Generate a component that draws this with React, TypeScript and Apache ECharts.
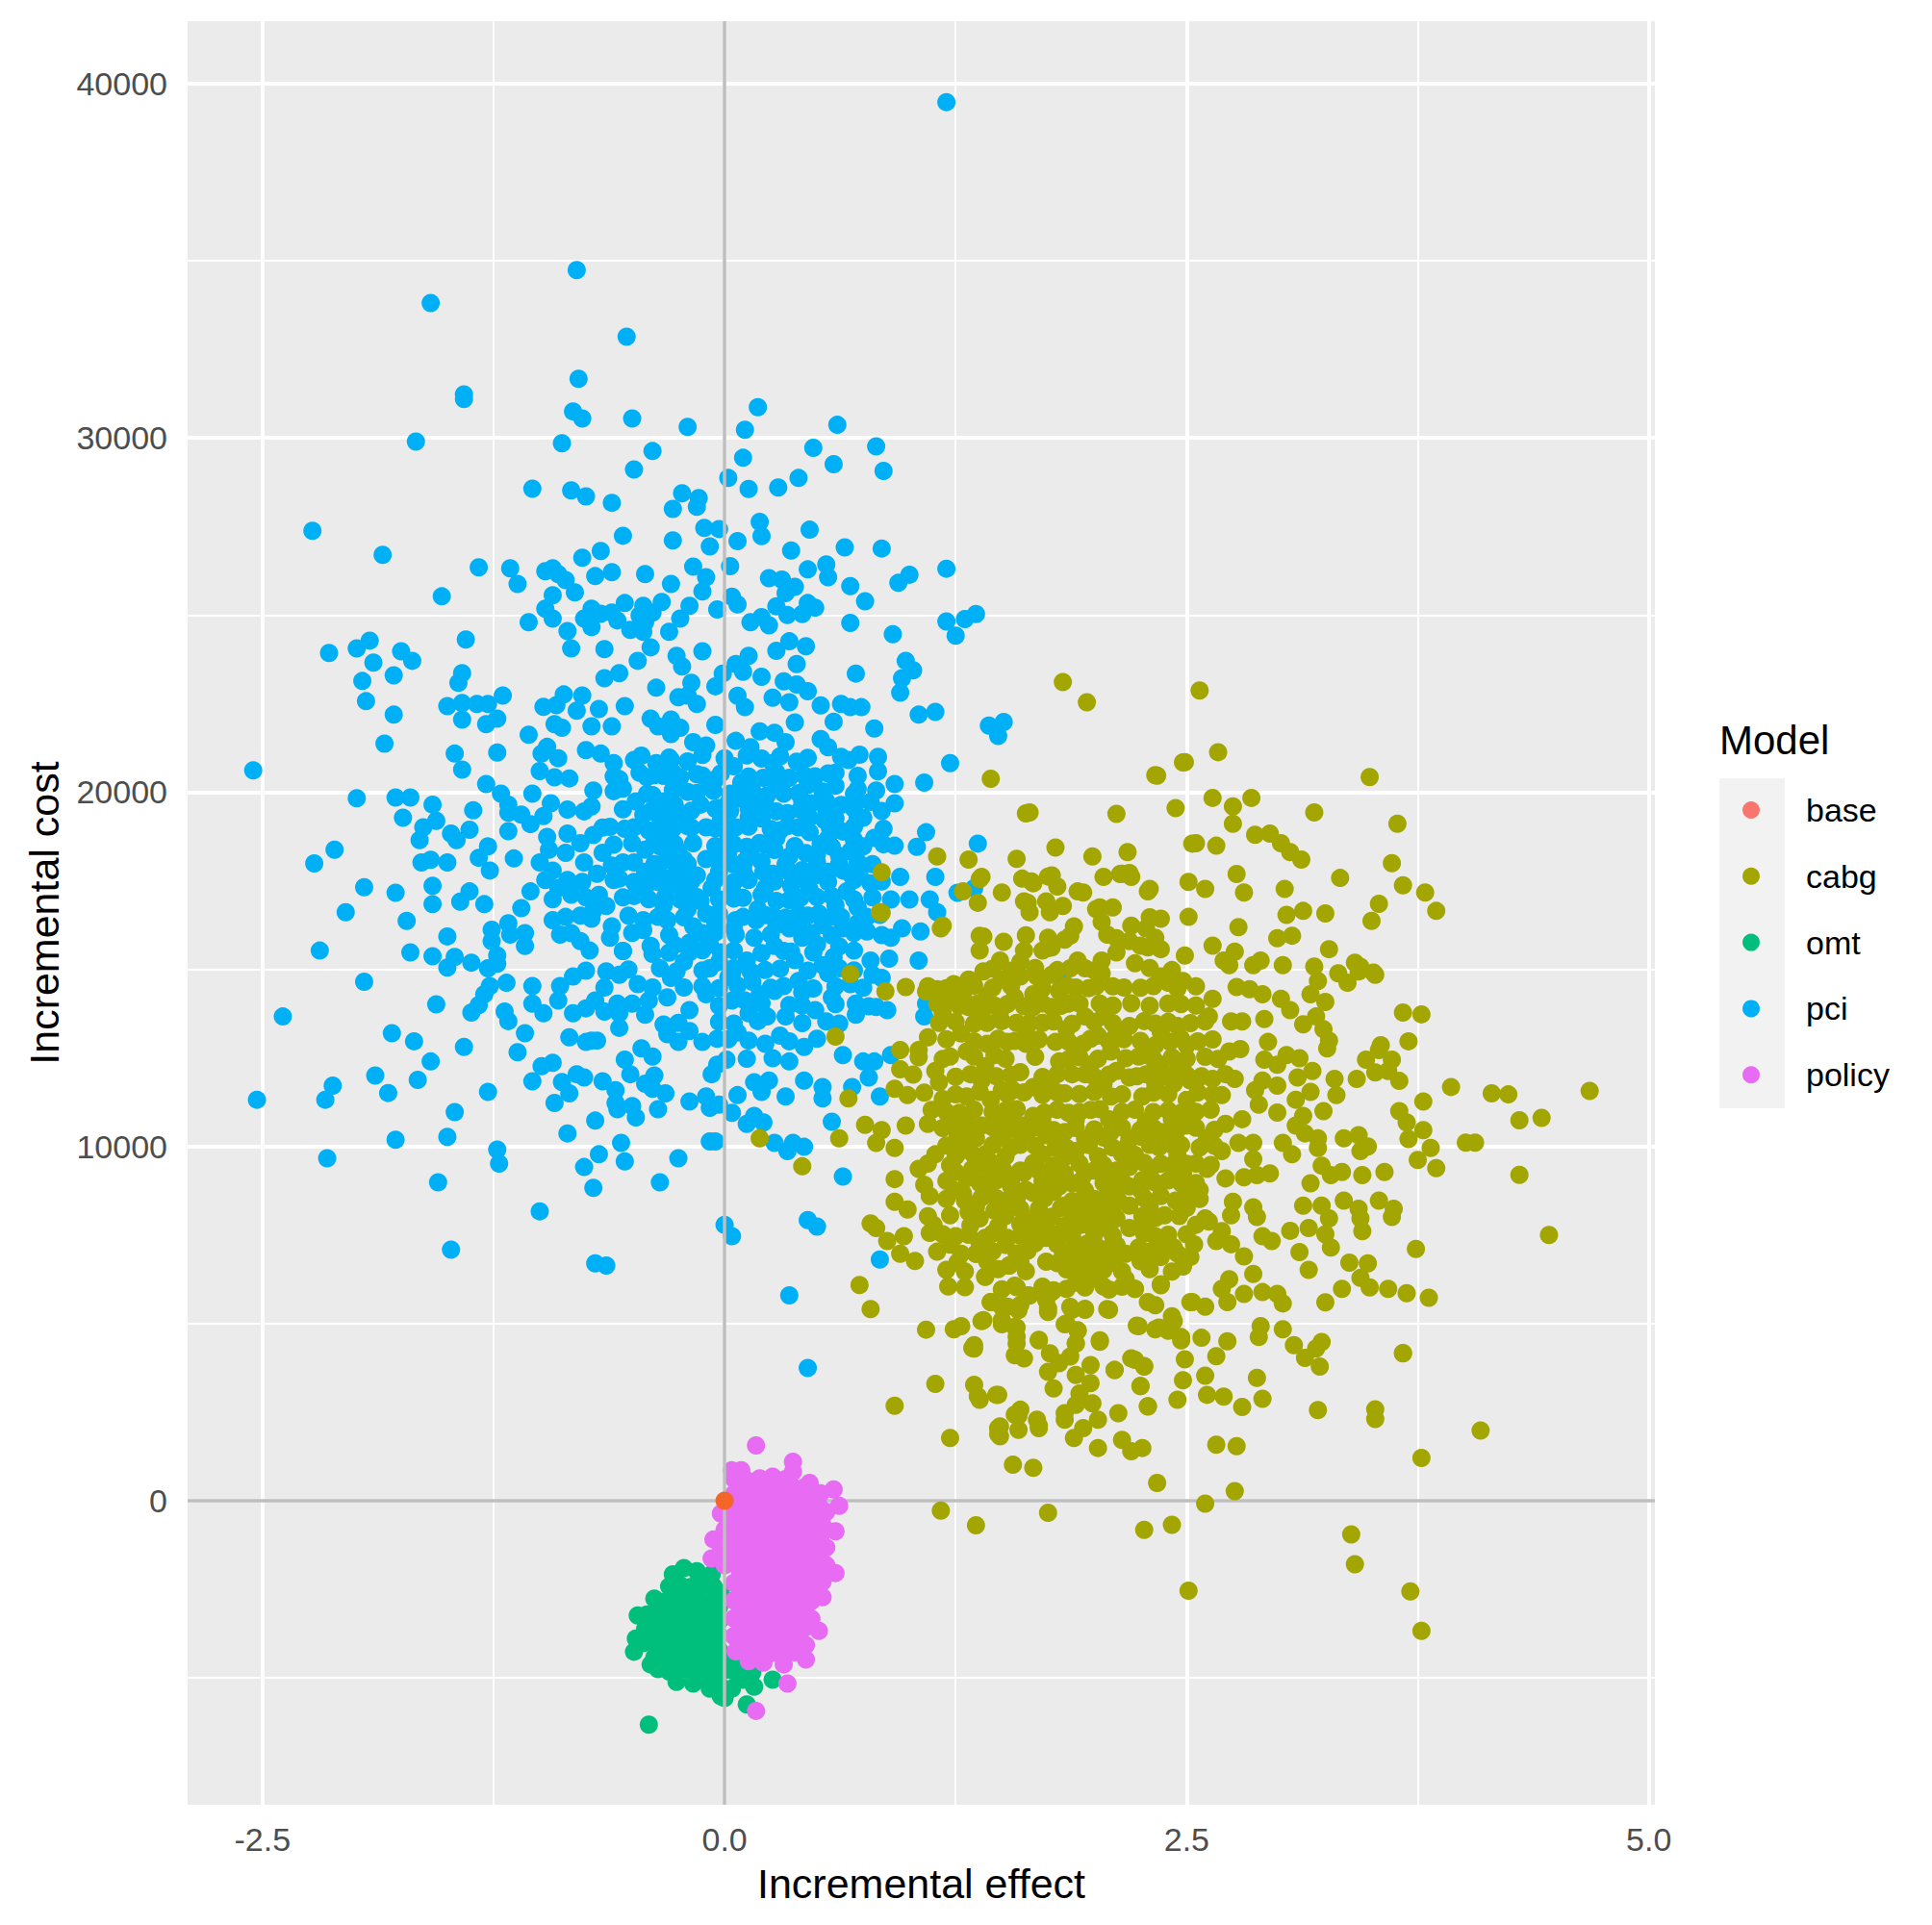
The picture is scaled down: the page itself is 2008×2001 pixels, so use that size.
import React, { useEffect, useRef } from "react";
import * as echarts from "echarts";

type Pt = [number, number];

const basePoints: Pt[] = [[0, 0]];

const pciPoints: Pt[] = [
[1.2,39480],[-0.8,34740],[-1.59,33810],[-0.53,32860],[-0.79,31670],[-1.41,31230],[-1.41,31100],[-0.82,30750],[-0.77,30550],[-0.5,30550],[-0.2,30310],[-1.67,29900],[-0.88,29850],[-0.39,29630],[-0.49,29110],[-1.04,28570],[-0.83,28520],[-0.75,28350],[-0.61,28170],[-0.23,28440],[-0.28,28000],[-0.14,28300],[-0.15,28060],[-2.23,27380],[-0.11,27460],[-0.55,27240],[-0.28,27110],[-0.08,26940],[-1.85,26700],[-0.67,26810],[-0.77,26620],[-1.33,26350],[-1.16,26320],[-1.12,25880],[-0.97,26240],[-0.93,26320],[-0.9,26160],[-0.86,25990],[-0.7,26100],[-0.61,26210],[-0.43,26160],[-0.17,26370],[-0.29,25880],[-0.1,26070],[-0.12,25670],[-0.81,25640],[-1.53,25530],[-0.93,25560],[-0.97,25180],[-0.93,24900],[-1.06,24800],[-0.85,24550],[-0.83,24060],
[-0.72,25180],[-0.76,24900],[-0.72,24660],[-0.67,25040],[-0.61,25070],[-0.58,24850],[-0.54,25340],[-0.44,25260],[-0.46,24990],[-0.43,24800],[-0.51,24580],[-0.44,24530],[-0.39,25070],[-0.34,25370],[-0.19,25260],[-0.24,24900],[-0.3,24530],[-2.14,23930],[-1.99,24060],[-1.92,24280],[-1.75,23980],[-1.69,23710],[-1.9,23660],[-1.4,24310],[-1.79,23300],[-1.96,23140],[-1.94,22570],[-1.79,22190],[-1.42,23360],[-1.44,23090],[-1.2,22730],[-1.5,22430],[-1.42,22520],[-1.34,22490],[-1.28,22490],[-1.42,22050],[-1.23,22080],[-1.29,21920],[-0.65,24040],[-0.47,23710],[-0.4,24090],[-0.26,23850],[-0.23,23550],[-0.12,23980],[-0.65,23220],[-0.57,23360],[-0.37,22950],[-0.18,23090],[-0.2,22730],[-0.25,22680],[-0.15,22490],[-0.87,22760],[-0.77,22730],[-0.98,22410],[-0.91,22460],[-0.8,22300],[-0.68,22350],[-0.54,22430],[-0.4,22080],[-0.29,22050],[-0.92,21920],
[-1.84,21370],[-2.55,20620],[-1.46,21090],[-1.42,20640],[-1.23,21120],[-1.06,21620],[-1.29,20230],[-1.99,19830],[-1.78,19850],[-1.7,19850],[-1.74,19280],[-1.58,19650],[-1.36,19490],[-1.56,19190],[-1.63,19010],[-1.65,18650],[-1.48,18830],[-1.45,18650],[-1.38,18940],[-1.21,19960],[-1.17,19650],[-1.17,19420],[-1.1,19370],[-1.17,18900],[-1.04,19960],[-1.05,19100],[-0.98,19330],[-0.94,19690],[-0.96,18740],[-0.85,19510],[-0.76,19460],[-0.71,20050],[-0.67,21090],[-0.75,21190],[-0.6,20820],[-0.57,20370],[-0.55,20100],[-0.9,20960],[-0.96,21280],[-1,20600],[-0.92,20420],[-0.84,20390],[-0.99,21090],[-0.88,21820],[-0.72,21860],[-0.61,21860],[-0.49,20910],[-0.17,21410],[-0.1,21320],[-0.29,21640],[-0.36,21860],[-0.24,21820],
[-0.37,20820],[-0.29,20910],[-0.2,20870],[-0.42,20420],[-0.33,20460],[-0.24,20420],[-0.15,20510],[-0.48,19740],[-0.39,19920],[-0.33,19740],[-0.44,19370],[-0.35,19280],[-0.49,19010],[-0.41,18920],[-0.33,18880],[-0.54,18970],[-0.5,18560],[-0.43,18380],[-0.49,18020],[-0.43,17750],[-0.49,17470],[-0.43,17290],[-0.49,17070],[-0.41,16980],[-0.2,20010],[-0.13,19650],[-0.1,19010],[-0.17,18560],[-0.1,18110],[-0.15,17650],[-0.27,19650],[-0.22,19370],[-0.25,18330],[-0.31,18200],[-0.36,17840],[-0.24,17750],[-0.26,17290],[-0.32,17070],[-0.31,17560],[-0.44,16390],[-0.44,16110],[-0.36,16480],[-0.31,16390],[-0.4,15660],[-0.39,15440],[-0.27,15690],[-0.13,16930],[-0.17,16210],[-0.1,16570],[-0.19,15750],[-0.12,16020],[-0.22,15210],[-0.26,14940],[-0.19,15480],
[-0.85,18830],[-0.71,18790],[-0.95,18380],[-0.86,18290],[-0.78,18560],[-0.66,18290],[-0.76,18020],[-0.61,17930],[-0.57,17560],[-0.69,17700],[-0.77,17470],[-0.83,17110],[-0.93,17790],[-0.97,17520],[-1.05,17200],[-0.93,16980],[-1.1,16730],[-0.64,16790],[-0.71,16660],[-0.78,16520],[-0.86,16480],[-0.93,16390],[-0.61,16210],[-0.62,15890],[-0.89,15980],[-0.83,16020],[-0.78,15800],[-0.73,15530],[-0.72,16430],[-1.28,18470],[-1.33,18150],[-1.14,18130],[-1.27,17790],[-1.64,18020],[-1.59,18090],[-1.5,18020],[-2.11,18380],[-2.22,17990],[-1.95,17320],[-1.78,17160],[-2.05,16610],[-1.72,16370],[-1.58,17360],[-1.58,16840],[-1.38,17200],[-1.43,16910],[-1.3,16840],[-2.19,15530],[-1.7,15480],[-1.5,15930],[-1.58,15370],[-1.46,15350],[-1.5,15050],[-1.37,15190],[-1.26,16120],[-1.17,16300],[-1.08,16020],[-1.26,15800],[-1.08,15660],[-1.16,15980],[-1.23,15390],[-1.23,15160],[-1.28,15030],[-1.27,14530],[-1.18,14620],[-1.3,14300],[-1.95,14650],[-2.39,13670],[-1.56,14010],[-1.33,13990],[-1.37,13780],[-1.19,13810],[-1.17,13540],[-1.08,13200],
[-1.04,14530],[-0.89,14530],[-1.04,14030],[-0.98,13760],[-0.9,14120],[-0.82,13760],[-0.82,14800],[-0.75,14960],[-0.64,14940],[-0.57,14850],[-0.65,14490],[-0.7,14120],[-0.75,13900],[-0.65,13810],[-0.58,14030],[-0.57,13760],[-0.47,14580],[-0.39,14490],[-0.41,14120],[-0.43,13720],[-0.29,14760],[-0.22,14490],[-0.31,14210],[-0.19,13850],[-0.1,14300],[-0.33,13440],[-0.25,13490],[-0.19,13260],[-0.31,13170],[-0.25,12950],[-0.12,12950],[-0.57,13350],[-0.84,13080],[-0.72,12990],[-0.75,12950],[-0.69,12990],[-1.8,13200],[-1.68,12970],[-1.41,12810],[-1.59,12400],[-1.12,12660],[-1.66,11880],[-1.89,12000],[-1.82,11510],[-1.28,11540],[-2.12,11720],[-2.16,11320],[-2.53,11320],[-0.99,12270],[-0.93,12360],[-1.04,11840],[-0.88,11820],[-0.84,11500],[-0.8,12040],[-0.76,11950],[-0.66,11840],[-0.59,11590],[-0.59,11230],[-0.58,11050],[-0.5,11140],[-0.48,10820],[-0.92,11230],[-0.54,12450],[-0.51,12040],[-0.45,12770],[-0.39,12540],[-0.38,12000],[-0.43,11770],[-0.32,11500],[-0.36,11050],[-0.39,11630],[-0.19,11270],[-0.1,11410],[-0.07,12040],[-0.08,11090],[-1.46,10970],[-1.5,10270],[-1.78,10190],[-2.15,9670],[-1.23,9910],[-1.22,9520],[-1.55,8990],[-0.7,10730],[-0.85,10370],[-0.56,10100],[-0.68,9780],[-0.54,9580],[-0.76,9420],[-0.25,9670],[-0.35,8990],[-0.71,8830],[-0.08,10140],[-1,8170],[-1.48,7090],[-0.7,6700],[-0.64,6640],
[0.18,30870],[0.11,30230],[0.61,30370],[0.82,29760],[0.48,29720],[0.1,29440],[0.59,29260],[0.86,29070],[0.02,28870],[0.4,28870],[0.29,28600],[0.13,28560],[0.19,27630],[0.2,27230],[0.46,27410],[-0.03,27430],[0.07,27090],[0.65,26910],[0.85,26880],[0.36,26820],[0.03,26380],[1.2,26310],[0.45,26290],[0.55,26430],[0.56,26070],[1,26140],[0.94,25910],[0.68,25820],[0.24,26040],[0.31,26000],[0.38,25800],[0.33,25620],[0.76,25390],[0.04,25520],[0.07,25300],[-0.04,25160],[0.28,25250],[0.34,25000],[0.45,25340],[0.49,25210],[0.42,25030],[0.14,24800],[0.2,24940],[0.24,24710],[0.68,24780],[1.2,24820],[1.3,24890],[1.36,25030],[1.25,24420],[0.91,24460],[0.35,24260],[0.44,24120],[0.28,23990],[0.13,23850],[0.06,23620],[0.1,23400],[0.71,23350],[0.98,23710],[1.02,23440],[0.96,23220],[0.95,22810],[0.2,23260],[0.39,23620],[0.32,23130],[0.39,23040],[0.45,22850],[-0.01,23350],[-0.05,22990],[0.07,22720],[0.11,22400],[0.26,22670],[0.35,22540],[0.52,22450],[0.63,22490],[0.68,22400],[0.74,22400],[1.05,22190],[1.14,22270],[-0.05,21900],[0.38,21970],[0.59,21990],[0.81,21800],[1.43,21880],[1.51,21980],[1.48,21590],[0.06,21450],[0.19,21720],[0.27,21680],[0.33,21410],[0.52,21500],[0.56,21270],[0.14,21270],[0.2,20950],[0.26,20820],[0.63,21000],[0.67,20910],[0.83,21000],[0.83,20590],[1.22,20820],[0.05,20730],[-0.05,20360],[0.09,20270],[0.39,20860],[0.35,20410],[0.49,20450],[0.21,20410],[0.6,20180],[1.08,20270],[0.72,20090],[0.82,20050],[0.92,20230],[0.92,19690],[0.79,19730],[0.75,19280],[0.63,19640],[0.23,19910],[0.32,19960],[0.22,19640],[0.34,19410],[0.47,19690],[0.2,19260],[0.07,19820],[-0.03,19550],[0.06,19010],[0.54,19210],[0.46,19280],[0.4,19010],[0.46,18870],[0.64,18890],[0.81,18710],[0.92,18490],[1.09,18870],[1.04,18460],[1.37,18550],[0.19,18570],[0.3,18920],[0.27,18370],[0.35,18190],[0.44,18280],[0.58,18460],[0.68,18330],[0.11,18060],[0.8,17970],
[-0.03,17750],[0.11,17650],[0.21,17750],[0.35,17750],[0.49,17650],[0.64,17790],[0.73,17650],[0.79,17430],[0.95,17610],[1.14,17610],[1.35,17290],[1.26,17160],[0.04,17200],[0.2,17110],[0.28,16930],[0.41,17020],[0.58,17070],[0.66,17200],[0.9,16970],[1,16970],[1.11,16970],[1.15,16610],[-0.03,16570],[0.06,16390],[0.17,16390],[0.27,16480],[0.4,16570],[0.51,16570],[0.63,16480],[0.72,16750],[0.77,16480],[0.06,15980],[0.16,15890],[0.27,15660],[0.35,16160],[0.42,15890],[0.53,16250],[0.64,16160],[0.77,16070],[0.9,15890],[0.96,16160],[1.06,16070],[-0.03,15210],[0.14,14940],[0.38,15260],[0.53,15120],[0.59,15350],[1.05,15250],[0.79,15250],[0.89,15300],[0.8,14850],[0.85,14760],[0.56,14890],[0.04,14850],[0.4,14670],[0.42,14350],[0.68,14580],[0.58,14210],[0.49,13850],[0.27,14390],[0.19,14300],[0.11,14120],[0.04,14120],[0.13,13760],[0.23,13670],[0.33,13670],[0.35,13990],[0.71,14030],[0.71,13720],[0.82,13940],[0.88,13850],[1.09,14030],[1.08,13670],[0.07,13220],[0.13,12990],[0.3,13130],[0.22,12900],[-0.04,13040],[-0.04,12310],[0.43,12810],[0.64,12580],[0.9,12580],[0.75,12400],[0.81,12400],[0.78,11950],[0.01,12450],[0.12,12480],[0.26,12490],[0.35,12400],[0.43,11860],[0.53,11680],[0.53,11360],[0.16,11810],[0.24,11860],[0.2,11540],[0.07,11450],[-0.03,11180],[0.33,11410],[0.69,11680],[0.84,11410],[0.04,10950],[0.16,10860],[0.12,10640],[0.21,10680],[0.58,10700],[-0.05,10140],[0.27,10100],[0.34,9870],[0.37,10100],[0.43,9990],[0.64,9150],[0,7790],[0.04,7470],[0.45,7920],[0.5,7740],[0.84,6810],[0.35,5800],[0.45,3750],
[1.83,14600],[2.12,10700],
[-0.45,21030],[-0.3,20980],[-0.12,21050],[0,20960],[0.12,21040],[0.3,21010],[0.45,20970],[0.73,21060],
[-0.6,20450],[-0.46,20550],[-0.38,20480],[-0.28,20560],[-0.12,20470],[-0.02,20530],[0.13,20440],[0.28,20560],[0.43,20480],[0.56,20530],[0.72,20460],
[-0.6,20030],[-0.42,19950],[-0.28,20060],[-0.15,19980],[-0.06,20040],[0.03,19960],[0.15,20050],[0.4,19970],[0.53,20020],[0.7,19950],
[-0.55,19520],[-0.4,19460],[-0.28,19540],[-0.18,19480],[-0.05,19530],[0.03,19470],[0.13,19540],[0.28,19460],[0.41,19510],[0.55,19480],[0.7,19530],[0.85,19470],
[-0.62,19020],[-0.28,18970],[-0.2,19040],[-0.05,18980],[0.13,19030],[0.25,18960],[0.34,19040],[0.57,18980],[0.7,19030],[0.86,18970],
[-0.6,18520],[-0.35,18470],[-0.27,18540],[-0.05,18480],[0.05,18530],[0.12,18460],[0.22,18520],[0.38,18480],[0.52,18540],[0.75,18470],[0.86,18530],
[-0.55,18020],[-0.38,17970],[-0.28,18040],[-0.2,17980],[-0.03,18030],[0.05,17960],[0.2,18040],[0.33,17970],[0.5,18020],[0.62,17980],[0.72,18040],
[-0.6,17520],[-0.36,17470],[-0.25,17540],[-0.18,17480],[-0.05,17530],[0.05,17460],[0.13,17520],[0.27,17480],[0.42,17540],[0.56,17470],[0.7,17520],[0.85,17480],
[-0.55,17030],[-0.24,16970],[-0.15,17040],[-0.03,16980],[0.1,17020],[0.35,16960],[0.5,17040],[0.7,16970],[0.8,17030],
[-0.52,16520],[-0.22,16470],[-0.05,16540],[0.1,16480],[0.22,16530],[0.33,16460],[0.45,16520],[0.58,16480],[0.84,16540],
[-0.5,16030],[-0.3,15970],[-0.05,16040],[0.25,15980],[0.47,16020],[0.58,15960],[0.7,16030],[0.85,15970],
[-0.55,15520],[-0.3,15470],[-0.12,15540],[-0.02,15480],[0.05,15530],[0.2,15460],[0.32,15520],[0.48,15480],[0.7,15530],
[-0.35,15030],[-0.12,14970],[0.05,15040],[0.22,14980],[0.3,15020],[0.45,14960],[0.62,15030],[0.7,14970],
[-0.12,14520],[-0.03,14470],[0.07,14540],[0.25,14480],[0.32,14530],[0.48,14460],[0.6,14520],[0.75,14480],
[-0.5,14030],[-0.03,13970],[0.2,14040],[0.42,13980],[0.6,14020],[0.78,13960],
[-0.03,13520],[0.05,13470],[0.18,13540],[0.42,13480],[0.55,13530],[0.62,13470],
[0.02,13030],[0.35,12970],[0.5,13040],[-0.75,17030],[-0.9,17300],[-1,18020],[-0.85,17520],[-0.72,19600],[-0.66,19000],[-0.68,17100],[-0.55,15520],[-0.52,15000],
[-0.08,15030],[0.02,14780],[0.12,15250],[0.15,14650],[0.36,15500],[0.5,15700],[0.62,15650],[0.05,16150],[0.18,16700],[0.28,16250],[0.4,16250],[0.6,16800],[0.72,16300],[0.05,17000],[0.22,17300],[0.36,17350],[0.46,17250],[0.1,17850],[0.26,17700],[0.42,17800],[0.56,17750],[0.68,17700],[0.02,18300],[0.14,18250],[0.5,18250],[0.62,18200],[0.02,18750],[0.28,18700],[0.56,18700],[0.7,18650],[-0.02,19200],[0.13,19300],[0.6,19250],[0.72,19250],[0.02,19700],[0.15,19750],[0.42,19750],[0.55,19750],[0.72,19750],[-0.08,20250],[0.12,20200],[0.28,20250],[0.45,20200],[0.6,20550],[-0.3,19250],[-0.18,19000],[-0.3,18650],[-0.38,18600],[-0.22,18100],[-0.4,17500],[-0.2,17100],[-0.33,16800],[-0.07,17300],[-0.05,16300],[-0.2,16700],[-0.08,15700],
];

const cabgPoints: Pt[] = [
[1.83,23110],[1.96,22540],[2.57,22870],[1.44,20380],[1.63,19400],[2.12,19390],[2.33,20480],[2.48,20840],[2.44,19550],[1.15,18190],[1.32,18100],[1.58,18120],[1.79,18440],[1.99,18190],[2.18,18310],[2.53,18550],
[0.85,17740],[1.39,17610],[1.29,17200],[1.37,16880],[1.61,17560],[1.67,17430],[1.77,17650],[1.8,17340],[1.91,17200],[2.05,17610],[2.15,17700],[2.2,17610],[2.29,17200],[2.51,17470],[1.64,16880],[1.65,16610],[1.76,16610],[1.83,16790],[2.01,16700],[2.1,16750],[2.51,16480],[0.85,16590],[1.17,16160],[1.89,16210],[2.04,16340],[2.07,15980],[2.36,16430],[2.28,16160],[2.33,15890],[1.4,15930],[1.51,15780],[1.63,15960],[1.75,15890],[1.84,15840],[1.77,15620],[1.38,15530],[1.49,15250],[1.6,15210],[1.72,15530],[2.19,15800],[2.12,15480],[2.29,15620],[2.36,15570],[2.22,15170],[2.49,15390],[2.04,15250],[2.04,14890],[1.91,15250],[1.87,15030],
[0.68,14870],[1.4,14940],[1.32,14710],[1.24,14580],[1.15,14440],[1.09,14370],[0.98,14500],[0.87,14380],[1.5,14710],[1.6,14800],[1.69,14800],[1.77,14850],[1.9,14490],[1.81,14390],[1.67,14300],[1.57,14210],[1.67,13940],[1.77,13940],[1.86,14030],[1.42,14260],[1.29,14300],[1.22,14120],[1.32,13940],[1.39,13760],[1.49,13810],[1.42,13490],[1.18,13760],[1.16,13490],[2.01,14530],[2.16,14490],[2.36,14800],[2.48,14670],[2.4,14620],[2.03,14030],[2.4,14030],
[1.58,13490],[1.72,13490],[1.85,13310],[1.79,12950],[1.95,13670],[2.05,13670],[2.19,13400],[2.12,13310],[2.02,13130],[1.9,12580],[1.94,12900],[2.09,12680],[2.17,12490],[2.36,13220],[2.45,13400],[2.33,12860],[2.41,12950],[2.5,12860],[2.28,12580],[0.6,13100],[1.1,13080],[1.05,12720],[0.95,12720],[1.28,13190],[1.42,12900],[1.53,12950],[1.63,12900],[1.63,13220],[1.22,12540],[1.31,12680],[1.46,12580],[0.95,12180],[1.6,12100],[1.14,12130],[1.16,11810],[1.41,12270],[1.39,11860],[1.81,12400],[1.8,12040],[1.95,12040],[1.98,12310],[2.12,12130],[2.05,11770],[2.19,11950],[2.28,12040],[2.36,12310],[2.45,12130],[2.43,11770],[2.52,11860],[2.33,11770],
[0.92,11630],[0.99,11450],[0.67,11360],[1.18,11340],[1.31,11410],[1.5,11590],[1.56,11590],[1.67,11680],[1.76,11770],[1.84,11500],[1.44,11320],[1.58,11050],[1.67,10860],[1.86,10950],[2.03,11050],[2.09,11410],[2.26,11410],[2.5,11320],[2.47,10950],[1.27,10950],[1.24,10590],[1.31,10680],[1.39,10590],[1.5,10680],[1.62,10590],[1.72,10680],[0.76,10610],[0.85,10460],[0.98,10590],[1.1,10640],[0.62,10230],[0.19,10230],[0.82,10100],[0.92,9960],[1.36,10230],[1.74,10320],[1.84,10410],[1.95,10230],[2.09,10410],[2.19,10230],[2.36,10410],[2.5,10590],[2.3,10050],[2.42,10050],[1.14,9780],[1.28,9880],[1.41,9780],[1.6,10050],[1.79,9960],[1.9,9870],[2.15,9780],[0.42,9440],
[1.05,9370],[1.25,9280],[1.34,9370],[1.44,9550],[1.51,9320],[1.6,9320],[1.7,9320],[1.84,9240],[2,9320],[2.12,9320],[2.19,9420],[2.36,9510],[2.5,9510],[0.92,9080],[1.31,9100],[1.08,8920],[1.11,8600],[1.29,8670],[1.39,8560],[1.55,8870],[1.58,8510],[1.67,8690],[1.81,8870],[1.96,8600],[2.07,8600],[2.19,8870],[2.26,9050],[2.47,8960],[2.36,8600],[0.92,8440],[0.99,8220],[1.46,8190],[1.22,8060],[1.32,8150],[1.6,8240],[1.7,8240],[1.84,8330],[1.93,8240],[2.05,8150],[2.19,8330],[2.38,8060],[0.79,7830],[0.82,7700],[1.13,7790],[1.32,7510],[1.41,7420],[1.53,7420],[1.67,7700],[1.74,7420],[1.93,7790],[2.03,7700],[2.19,7700],[2.24,7150],[2.4,7510],[2.43,7150],[1.11,7560],[0.88,7330],[0.97,7470],[0.95,6970],[1.03,6770],[1.36,6970],[1.64,7060],[1.74,6750],[1.9,7150],[2.02,7150],[2.1,7240],[2.36,6880],[2.52,6880],[1.54,6640],[1.88,6610],[2,6610],[1.9,6160],[2.02,6250],[2.17,6250],[2.36,6110],[1.41,6320],[1.21,6050],[0.73,6090],[0.79,5410],[1.57,6070],[1.65,5790],[1.77,5890],[2.22,5980],[2.33,5520],[2.52,5610],[1.44,5610],[1.53,5480],[1.6,5530],[1.75,5430],[1.88,5390],[1.95,5390],[2.07,5410],[1.39,5070],[1.5,4980],[1.58,4890],[1.84,4980],[1.91,4800],[2.24,4930],[2.35,4890],[2.43,5070],[2.47,4620],[1.09,4830],[1.24,4840],[1.28,4930],[1.35,4390],[1.7,4540],[2.03,4530],[1.9,4440],[1.58,4440],
[3.52,14850],[3.32,14890],[3.44,15070],[3.37,14620],[3.21,14670],[3.17,14300],[3.25,14080],[3.02,15120],[2.86,15120],[2.73,15120],[2.77,14500],[2.84,14440],[2.91,14300],[3.01,14170],[3.06,13850],[2.64,14170],[2.62,13670],[2.74,13530],[2.8,13530],[2.92,13600],[3.13,13450],[3.2,13670],[3.24,13310],[3.27,12990],[3.26,12770],[3.67,13780],[3.77,13730],[3.7,12970],[3.55,12860],[3.47,12450],[3.61,12450],[3.59,12130],[3.52,12090],[3.42,11910],[3.3,11910],[3.31,11450],[2.94,12950],[2.73,12680],[2.79,12750],[2.92,12450],[3.04,12580],[3.11,12490],[3.18,12130],[3.1,11950],[2.99,12310],[2.99,11720],[2.64,11910],[2.71,12040],[2.76,11910],[2.69,11450],[2.87,11590],[2.91,11860],[3.17,11540],[3.09,11320],[3.24,11000],[2.89,11180],[2.99,10960],[3.13,10860],[3.78,11270],[3.65,11000],[3.69,10680],[3.78,10460],[3.7,10210],[3.82,9960],[3.75,9620],[3.85,9390],[2.71,10640],[2.8,10770],[2.61,10230],[2.69,9870],[2.78,10100],[2.86,10100],[2.86,9640],[3.09,10590],[3.21,10230],[3.02,10100],[3.07,9780],[3.21,9960],[3.14,10370],[3.35,10230],[3.43,10320],[3.44,9870],[3.48,10000],[3.23,9460],[3.28,9190],[3.34,9280],[3.45,9190],[3.57,9280],[3.17,8960],[2.71,9100],[2.81,9130],[2.88,9190],[2.95,9240],[2.61,9370],[2.57,8770],[2.46,9050],[2.5,8560],[2.75,8440],[2.86,8280],[2.74,8060],[2.88,8010],[3.13,8330],[3.23,8330],[3.35,8470],[3.43,8240],[3.54,8470],[3.62,8240],[3.61,8010],[3.27,7970],[3.44,7970],[3.45,7610],[3.06,7620],[3.16,7700],[2.91,7470],[2.96,7330],[3.25,7520],[3.28,7150],[3.11,7020],[3.16,6520],[3.74,7110],[2.55,7790],[2.62,7880],[2.69,7610],[2.74,7240],[2.66,7330],[2.54,7240],[2.5,6880],[2.48,6610],[2.81,6900],[2.86,6400],[3.38,6720],[3.48,6700],[3.44,6290],[3.49,6020],[3.59,5980],[3.69,5860],[3.81,5730],[3.34,5980],[3.25,5600],[2.73,6250],[2.69,5980],[2.72,5610],[2.81,5840],[2.91,5890],[2.99,5840],[3.02,5570],[2.53,5610],[2.6,5480],[2.36,6080],[2.22,5980],[2.29,5610],[2.42,5210],[2.33,4840],[2.23,4940],[2.4,4800],[2.47,4530],[2.49,3990],[2.48,3400],[2.58,4600],[2.72,4500],[2.66,4080],[2.9,4930],[2.89,4620],[3.02,4840],[3.08,4390],[3.23,4480],[3.2,4300],[3.14,4030],[3.22,3790],[3.67,4170],[2.6,3530],[2.88,3470],[2.61,2990],[2.7,2940],[2.8,2650],[2.91,2880],[3.21,2560],[3.52,2580],[3.52,2310],[2.45,2850],[2.29,2670],[2.25,3240],[2.11,3690],[2.22,3980],[2.27,3800],
[1.35,4300],[1.35,3270],[1.38,2850],[1.48,2990],[1.41,6330],[1.54,6640],[1.36,6970],[1.58,6030],[1.64,5800],[1.78,5940],[1.74,5660],[1.75,5330],[1.44,5610],[1.5,5470],[1.4,5100],[1.5,5100],[1.59,5380],[1.57,4910],[1.58,4630],[1.7,4530],[1.57,4110],[1.62,4020],[1.76,4160],[1.81,3880],[1.75,3640],[1.78,3170],[1.87,5470],[1.95,5420],[1.85,5000],[1.91,4810],[1.9,4440],[1.87,4070],[2.03,4490],[2.08,5390],[1.98,3830],[1.9,3550],[1.98,3320],[1.92,3030],[1.99,2750],[1.9,2710],[2.11,3690],[2.2,4020],[2.27,3790],[2.25,3240],[2.29,2660],[1.6,2570],[1.57,2430],[1.49,2100],[1.49,1820],[1.59,2000],[1.69,2290],[1.7,2050],[1.84,2470],[1.84,2290],[2.02,2290],[1.94,2050],[1.89,1770],[2.02,1490],[2.13,2470],[2.15,1720],[2.2,1400],[2.26,1490],[1.56,1020],[1.67,930],[2.34,500],[2.76,270],[2.6,-80],[1.75,-340],[1.36,-690],[2.27,-820],[2.42,-680],[2.51,-2540],[3.39,-950],[3.41,-1790],[3.71,-2560],[3.77,-3670],[3.67,4160],[4.09,1980],[3.77,1210],[4.3,9200],[4.46,7500],[2.66,1580],[2.77,1540],
[4.68,11570],[4.42,10810],[4.3,10740],[4.24,11470],[4.15,11500],[3.93,11680],[3.85,16650],[3.79,17170],[3.67,17370],[3.64,19110],[3.61,18000],[3.49,20430],[4.01,10110],[4.06,10110],
[2.67,21130],[2.49,20850],[2.34,20470],[2.64,19840],[2.75,19600],[2.85,19840],[2.75,19110],[2.55,18560],[2.66,18490],[2.87,18800],[2.95,18830],[3.01,18560],[3.06,18310],[3.12,18100],[3.19,19430],[2.77,17690],[2.81,17170],[3.03,17270],[3.33,17580],[3.54,16850],[3.5,16370],[3.25,16580],[3.13,16650],[3.04,16540],[2.78,16190],[3.07,15950],[2.99,15880],[2.64,15670],[2.76,15500],[2.6,17270],[2.7,15250],[2.9,15250],[3.19,15080],[3.27,15570],[3.41,15190],[3.43,14940],[3.51,14910],[3.54,12720],[3.65,11850],
[1.65,19430],[2.14,17690],[2.19,17720],[1.38,17550],[1.66,17480],[1.75,17620],[1.94,17170],[2.03,16750],[1.62,16920],[1.74,16920],[1.5,17170],[1.18,16230],[0.84,16610],[2.3,17270],[2.3,16470],[2.2,16230],[2.12,15880],[2.25,15670],[1.87,15950],[1.75,15600],[1.62,15530],[1.38,15950],
[0.92,2680],[1.14,3300],[1.22,1770],[1.17,-280],[1.37,2950],[1.47,2990],[1.34,4310],[1.48,2050],[1.48,1880],[1.59,2400],[1.7,2120],
[1.45,15020],[1.55,14960],[1.68,15040],[1.8,14980],[1.95,15030],[2,14970],[2.3,15040],[2.42,14980],
[1.1,14520],[1.2,14470],[1.35,14540],[1.45,14480],[1.55,14530],[1.72,14460],[1.85,14540],[1.97,14470],[2.1,14520],[2.25,14480],[2.32,14530],[2.45,14460],[2.55,14520],
[1.15,14030],[1.27,13970],[1.37,14040],[1.46,13980],[1.53,14020],[1.62,13960],[1.72,14040],[1.82,13970],[1.92,14030],[2.1,13980],[2.2,14040],[2.3,13970],[2.47,14020],[2.55,13980],
[1.25,13520],[1.35,13470],[1.5,13540],[1.65,13480],[1.78,13530],[1.88,13460],[2,13520],[2.1,13480],[2.27,13540],[2.33,13470],[2.4,13520],[2.52,13480],[2.6,13530],
[1.2,13030],[1.35,12970],[1.48,13040],[1.57,12980],[1.7,13020],[1.86,12960],[1.98,13040],[2.08,12970],[2.16,13030],[2.25,12980],[2.47,13040],[2.56,12970],[2.64,13020],
[1.05,12520],[1.18,12470],[1.35,12540],[1.52,12480],[1.68,12530],[1.86,12460],[1.92,12520],[2.02,12480],[2.24,12540],[2.32,12470],[2.42,12520],[2.5,12480],[2.6,12530],[2.67,12470],
[1.02,12030],[1.25,11970],[1.33,12040],[1.47,11980],[1.55,12020],[1.72,11960],[1.88,12040],[2,11970],[2.08,12030],[2.23,11980],[2.32,12040],[2.4,11970],[2.5,12020],[2.58,11980],
[1.08,11520],[1.25,11470],[1.38,11540],[1.53,11480],[1.62,11530],[1.72,11460],[1.8,11520],[1.92,11480],[2,11540],[2.15,11470],[2.32,11520],[2.4,11480],[2.56,11530],[2.64,11470],
[1.12,11030],[1.2,10970],[1.35,11040],[1.45,10980],[1.52,11020],[1.73,10960],[1.8,11040],[1.92,10970],[1.98,11030],[2.15,10980],[2.22,11040],[2.32,10970],[2.4,11020],[2.55,10980],[2.63,11040],
[1.18,10520],[1.32,10470],[1.45,10540],[1.57,10480],[1.67,10530],[1.78,10460],[1.9,10520],[2,10480],[2.15,10540],[2.25,10470],[2.32,10520],[2.45,10480],[2.55,10530],[2.65,10470],
[1.2,10030],[1.32,9970],[1.45,10040],[1.55,9980],[1.68,10020],[1.85,9960],[1.97,10040],[2.1,9970],[2.18,10030],[2.35,9980],[2.47,10040],[2.57,9970],[2.65,10020],
[1.1,9520],[1.22,9470],[1.37,9540],[1.48,9480],[1.67,9530],[1.78,9460],[1.92,9520],[2.05,9480],[2.27,9540],[2.42,9470],[2.55,9520],[2.63,9480],
[1.2,9030],[1.38,8970],[1.47,9040],[1.55,8980],[1.72,9020],[1.88,8960],[1.93,9040],[2.05,8970],[2.15,9030],[2.33,8980],[2.4,9040],[2.55,8970],
[1.2,8520],[1.3,8470],[1.47,8540],[1.53,8480],[1.73,8530],[1.88,8460],[2,8520],[2.13,8480],[2.27,8540],[2.44,8470],[2.57,8520],
[1.1,8030],[1.38,7970],[1.52,8040],[1.67,7980],[1.77,8020],[1.88,7960],[1.98,8040],[2.12,7970],[2.26,8030],[2.33,7980],[2.46,8040],[2.6,7970],
[1.18,7520],[1.25,7470],[1.45,7540],[1.6,7480],[1.8,7530],[1.88,7460],[2,7520],[2.1,7480],[2.27,7540],[2.33,7470],[2.5,7520],
[1.15,7030],[1.28,6970],[1.45,7040],[1.58,6980],[1.83,7020],[1.95,6960],[2.07,7040],[2.17,6970],[2.3,7030],[2.45,6980],
[1.2,6520],[1.3,6470],[1.48,6540],[1.63,6480],[1.85,6530],[1.95,6460],[2.05,6520],[2.15,6480],[2.3,6540],[2.42,6470],
[1.3,6030],[1.5,5970],[1.72,6040],[1.85,5980],[1.95,6020],[2.08,5960],[2.15,6040],
[1.9,10750],[2.08,10770],[2.28,10720],[2.42,10760],[1.55,10780],[1.26,10280],[1.5,10260],[1.63,10300],[1.8,10220],[2.05,10250],[2.25,10280],[2.4,10270],[1.35,9750],[1.52,9720],[1.72,9780],[1.84,9700],[2.02,9730],[2.22,9760],[2.45,9750],[1.25,9720],[1.43,9230],[1.62,9260],[1.78,9210],[1.95,9240],[2.08,9220],[2.3,9250],[2.48,9230],[1.24,8770],[1.42,8740],[1.63,8780],[1.78,8720],[1.95,8760],[2.1,8730],[2.25,8780],[2.5,8750],[1.36,8290],[1.5,8300],[1.82,8270],[1.93,8310],[2.1,8260],[2.3,8290],[2.5,8270],[1.33,7770],[1.48,7750],[1.6,7800],[1.73,7760],[1.84,7760],[2.08,7790],[2.28,7770],[1.22,7230],[1.38,7260],[1.52,7220],[1.68,7270],[1.8,7240],[1.96,7250],[2.12,7220],[2.37,7260],[1.26,6730],[1.42,6760],[1.6,6750],[1.8,6710],[1.96,6760],[2.1,6720],[2.25,6760],[1.9,6700],[2.12,8800],[1.98,8250],[2.04,6800],[2.12,7000],[1.98,6300],[2.05,6050],[1.95,7900],
];

const omtPoints: Pt[] = [
[-0.41,-6320],[0.12,-5750],[0.26,-5050],[0,-5570],[-0.02,-5520],[0.16,-5250],[0.13,-4980],[0.07,-4710],[-0.47,-3240],[-0.38,-2760],[-0.28,-2080],[-0.22,-1900],[-0.15,-1990],[-0.07,-2080],[-0.48,-3890],[-0.49,-4260],[-0.4,-4620],[-0.36,-4750],[-0.26,-5110],[-0.17,-5160],[-0.08,-5160],
[-0.3,-2420],[-0.24,-2380],[-0.18,-2430],[-0.12,-2390],[-0.06,-2420],[-0.36,-2840],[-0.3,-2790],[-0.24,-2830],[-0.18,-2780],[-0.12,-2840],[-0.06,-2800],[-0.42,-3210],[-0.36,-3180],[-0.3,-3230],[-0.24,-3190],[-0.18,-3220],[-0.12,-3180],[-0.06,-3230],[-0.43,-3620],[-0.37,-3580],[-0.31,-3630],[-0.25,-3590],[-0.19,-3620],[-0.13,-3580],[-0.07,-3630],[-0.44,-4020],[-0.38,-3980],[-0.32,-4030],[-0.26,-3990],[-0.2,-4020],[-0.14,-3980],[-0.08,-4030],[-0.38,-4420],[-0.32,-4380],[-0.26,-4430],[-0.2,-4390],[-0.14,-4420],[-0.08,-4380],[-0.02,-4430],[-0.3,-4820],[-0.24,-4780],[-0.18,-4830],[-0.12,-4790],[-0.06,-4820],[0,-4780],[0.05,-4810],[0.15,-4850],[0.1,-5050],[0.04,-5300],[-0.02,-5250],[-0.08,-5300],
[-0.02,-2600],[-0.03,-3000],[-0.03,-3400],[-0.03,-3800],[-0.03,-4200],[0.02,-4600],
];

const policyPoints: Pt[] = [
[0.17,1560],[0.37,1100],[0.37,820],[0.26,680],[0.46,500],[0.59,320],[0.62,-140],[0.04,860],[0.09,860],[0.6,-860],[0.6,-2040],[0.53,-2720],[0.51,-3670],[0.44,-4070],[0.44,-4480],[0.32,-4620],[0.34,-5160],[0.17,-5930],[-0.06,-1090],[-0.07,-1630],[-0.02,-360],[0.06,-4250],[0.13,-4530],[0.21,-4570],
[0.05,620],[0.12,580],[0.19,630],[0.26,590],[0.33,610],
[0.05,190],[0.12,230],[0.19,180],[0.26,220],[0.33,190],[0.4,230],[0.47,180],[0.52,210],
[0.02,-320],[0.08,-280],[0.15,-330],[0.22,-290],[0.29,-310],[0.36,-280],[0.43,-330],[0.5,-290],[0.55,-310],
[0,-820],[0.06,-780],[0.13,-830],[0.2,-790],[0.27,-820],[0.34,-780],[0.41,-830],[0.48,-790],[0.55,-820],
[-0.02,-1320],[0.05,-1280],[0.12,-1330],[0.19,-1290],[0.26,-1310],[0.33,-1280],[0.4,-1330],[0.47,-1290],[0.55,-1320],
[0,-1820],[0.05,-1780],[0.12,-1830],[0.19,-1790],[0.26,-1820],[0.33,-1780],[0.4,-1830],[0.47,-1790],[0.55,-1820],
[0.05,-2320],[0.12,-2280],[0.19,-2330],[0.26,-2290],[0.33,-2310],[0.4,-2280],[0.47,-2330],[0.53,-2290],
[0.05,-2820],[0.12,-2780],[0.19,-2830],[0.26,-2790],[0.33,-2820],[0.4,-2780],[0.47,-2830],
[0.05,-3320],[0.12,-3280],[0.19,-3330],[0.26,-3290],[0.33,-3310],[0.4,-3280],[0.47,-3330],
[0.05,-3820],[0.12,-3780],[0.19,-3830],[0.26,-3790],[0.33,-3820],[0.4,-3780],
[0.12,-4280],[0.19,-4330],[0.26,-4290],[0.33,-4310],[0.38,-4280],
[0.085,400],[0.155,410],[0.225,390],[0.295,400],[0.365,410],[0.435,390],[0.085,-60],[0.155,-50],[0.225,-70],[0.295,-60],[0.365,-50],[0.435,-70],[0.505,-60],[0.045,-570],[0.115,-560],[0.185,-580],[0.255,-570],[0.325,-560],[0.395,-580],[0.465,-570],[0.525,-560],[0.035,-1070],[0.095,-1060],[0.165,-1080],[0.235,-1070],[0.305,-1060],[0.375,-1080],[0.445,-1070],[0.515,-1060],[0.015,-1570],[0.085,-1560],[0.155,-1580],[0.225,-1570],[0.295,-1560],[0.365,-1580],[0.435,-1570],[0.515,-1560],[0.085,-2070],[0.155,-2060],[0.225,-2080],[0.295,-2070],[0.365,-2060],[0.435,-2080],[0.505,-2070],[0.085,-2570],[0.155,-2560],[0.225,-2580],[0.295,-2570],[0.365,-2560],[0.435,-2580],[0.5,-2570],[0.085,-3070],[0.155,-3060],[0.225,-3080],[0.295,-3070],[0.365,-3060],[0.435,-3080],[0.085,-3570],[0.155,-3560],[0.225,-3580],[0.295,-3570],[0.365,-3560],[0.435,-3580],[0.085,-4050],[0.155,-4060],[0.225,-4040],[0.295,-4050],[0.365,-4060],
];

const xMajor = [-2.5, 0, 2.5, 5];
const xMinor = [-1.25, 1.25, 3.75];
const yMajor = [0, 10000, 20000, 30000, 40000];
const yMinor = [-5000, 5000, 15000, 25000, 35000];
const modelNames = ["base", "cabg", "omt", "pci", "policy"];
const modelColors = ["#F8766D", "#A3A500", "#00BF7D", "#00B0F6", "#E76BF3"];

const FONT = "Liberation Sans";

export default function App() {
  const ref = useRef<HTMLDivElement>(null);
  useEffect(() => {
    if (!ref.current) return;
    const chart = echarts.init(ref.current, undefined, { renderer: "svg" });
    const white = (w: number) => ({ color: "#FFFFFF", width: w, type: "solid" as const, opacity: 1 });
    const gridLines = [
      ...yMinor.map((v) => ({ yAxis: v, lineStyle: white(2) })),
      ...xMinor.map((v) => ({ xAxis: v, lineStyle: white(2) })),
      ...yMajor.map((v) => ({ yAxis: v, lineStyle: white(4) })),
      ...xMajor.map((v) => ({ xAxis: v, lineStyle: white(4) })),
      { yAxis: 0, lineStyle: { color: "#BEBEBE", width: 3.5, type: "solid" as const, opacity: 1 } },
    ];
    const scatter = (i: number, data: Pt[], z: number, extra: object = {}) => ({
      type: "scatter" as const,
      name: modelNames[i],
      data,
      z,
      symbol: "circle",
      symbolSize: 19,
      progressive: 0,
      silent: true,
      itemStyle: { color: modelColors[i], opacity: 1 },
      ...extra,
    });
    chart.setOption({
      animation: false,
      backgroundColor: "#FFFFFF",
      textStyle: { fontFamily: FONT },
      grid: {
        left: 195, top: 22, width: 1525, height: 1854,
        show: true, backgroundColor: "#EBEBEB", borderWidth: 0, containLabel: false,
        outerBoundsMode: "none",
      },
      xAxis: {
        type: "value", min: -2.905, max: 5.033,
        name: "Incremental effect", nameLocation: "middle", nameGap: 60,
        nameTextStyle: { fontSize: 43, color: "#000000", fontFamily: FONT },
        splitLine: { show: false }, axisLine: { show: false },
        axisTick: { show: true, length: 12, lineStyle: { color: "#333333", width: 4 }, customValues: xMajor },
        axisLabel: {
          fontSize: 34, color: "#4D4D4D", margin: 19, fontFamily: FONT, customValues: xMajor,
          formatter: (v: number) => v.toFixed(1),
        },
      },
      yAxis: {
        type: "value", min: -8581, max: 41765,
        name: "Incremental cost", nameLocation: "middle", nameGap: 128,
        nameTextStyle: { fontSize: 43, color: "#000000", fontFamily: FONT },
        splitLine: { show: false }, axisLine: { show: false },
        axisTick: { show: true, length: 12, lineStyle: { color: "#333333", width: 4 }, customValues: yMajor },
        axisLabel: {
          fontSize: 34, color: "#4D4D4D", margin: 21, fontFamily: FONT, customValues: yMajor,
          formatter: (v: number) => String(Math.round(v)),
        },
      },
      legend: {
        show: true, orient: "vertical", left: 1811, top: 825, padding: 0,
        itemWidth: 68, itemHeight: 18, itemGap: 34.8, icon: "circle", selectedMode: false,
        textStyle: { fontSize: 34, color: "#000000", fontFamily: FONT, padding: [0, 0, 0, 18] },
        data: modelNames.map((n, i) => ({ name: n, icon: "circle", itemStyle: { color: modelColors[i], opacity: 1 } })),
      },
      graphic: [
        { type: "rect", left: 1787, top: 809, z: 0, shape: { width: 68, height: 343 }, style: { fill: "#F2F2F2" } },
        { type: "text", left: 1787, top: 748, z: 5, style: { text: "Model", fontSize: 42, fontFamily: FONT, fill: "#000000" } },
      ],
      series: [
        scatter(3, pciPoints, 2, {
          markLine: {
            silent: true, symbol: "none", z: 1, animation: false,
            label: { show: false }, emphasis: { disabled: true },
            data: gridLines,
          },
        }),
        scatter(1, cabgPoints, 3),
        scatter(2, omtPoints, 4),
        scatter(4, policyPoints, 5, {
          markLine: {
            silent: true, symbol: "none", z: 6, animation: false,
            label: { show: false }, emphasis: { disabled: true },
            data: [{ xAxis: 0, lineStyle: { color: "#BEBEBE", width: 3.5, type: "solid", opacity: 1 } }],
          },
        }),
        scatter(0, basePoints, 7, { itemStyle: { color: "#F4652A", opacity: 1 } }),
      ],
    });
    return () => chart.dispose();
  }, []);
  return <div ref={ref} style={{ position: "fixed", left: 0, top: 0, width: 2008, height: 2001 }} />;
}
